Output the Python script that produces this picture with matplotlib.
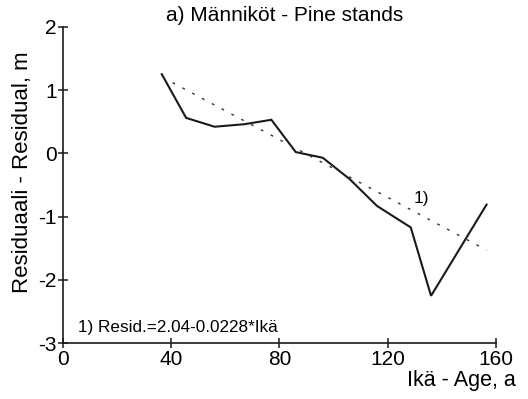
import matplotlib
matplotlib.use("Agg")
import matplotlib.pyplot as plt
import numpy as np

# residuals by stand age
age = [36.5, 45.5, 56, 67, 77, 86, 96, 106, 116, 128.5, 136, 156.5]
residual = [1.25, 0.56, 0.42, 0.46, 0.53, 0.02, -0.07, -0.41, -0.83, -1.17, -2.25, -0.81]

# fitted trend: Resid. = 2.04 - 0.0228 * age
trend_intercept = 2.04
trend_slope = -0.0228
trend_ages = [40.5, 156.5]

x_ticks = [0, 40, 80, 120, 160]
y_ticks = [-3, -2, -1, 0, 1, 2]

plt.rcParams.update({"font.family": "Liberation Sans", "font.size": 15})

fig = plt.figure(figsize=(5.28, 3.99), dpi=100)
ax = fig.add_axes([0.1193, 0.1396, 0.8201, 0.7935])

ax.plot(age, residual, color="#1a1a1a", lw=1.5, solid_joinstyle="miter")

trend_x = np.array(trend_ages)
ax.plot(trend_x, trend_intercept + trend_slope * trend_x,
        color="#333333", lw=1.0, linestyle=(0, (2, 6)))

ax.set_xlim(0, 160)
ax.set_ylim(-3, 2)
ax.set_xticks(x_ticks)
ax.set_yticks(y_ticks)
ax.set_yticklabels([str(v) for v in y_ticks])

for side in ["top", "right"]:
    ax.spines[side].set_visible(False)
for side in ["left", "bottom"]:
    ax.spines[side].set_linewidth(1.2)
    ax.spines[side].set_color("#1a1a1a")

ax.tick_params(axis="both", direction="inout", length=7, width=1.1,
               color="#1a1a1a", labelsize=15, pad=1)

ax.text(132.5, -0.71, "1)", fontsize=12.5, ha="center", va="center")
ax.text(5.5, -2.75, "1) Resid.=2.04-0.0228*Ikä", fontsize=12.3,
        ha="left", va="center")

fig.text(0.54, 0.962, "a) Männiköt - Pine stands", fontsize=15,
         ha="center", va="center")
fig.text(0.976, 0.046, "Ikä - Age, a", fontsize=15.5, ha="right", va="center")
fig.text(0.042, 0.569, "Residuaali - Residual, m", fontsize=16,
         rotation=90, ha="center", va="center")

fig.savefig("out.png", dpi=100)
